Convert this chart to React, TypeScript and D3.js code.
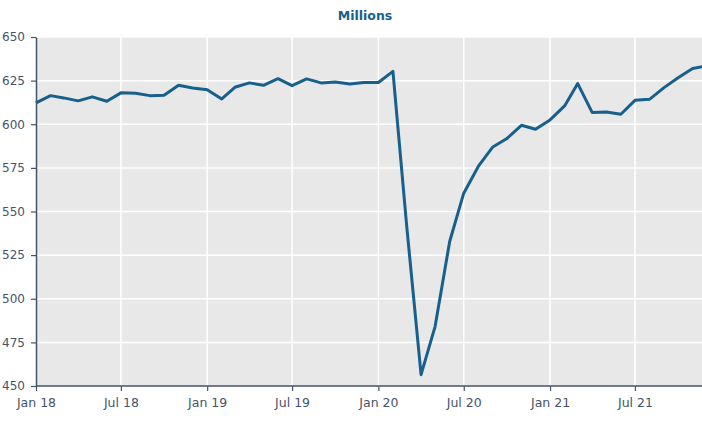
import React, { useEffect, useRef } from "react";
import * as d3 from "d3";

const startMonth = "2018-01";
const values: number[] = [
  612.2, 616.4, 615.1, 613.4, 615.7, 613.2, 618.0, 617.8, 616.4, 616.6, 622.3, 620.8,
  619.8, 614.5, 621.2, 623.7, 622.3, 626.1, 622.1, 626.0, 623.7, 624.2, 623.1, 623.9,
  623.9, 630.3, 542.7, 456.5, 484.2, 532.8, 560.5, 575.8, 587.0, 591.8, 599.4, 597.1,
  602.5, 610.5, 623.3, 606.7, 607.0, 605.7, 613.7, 614.3, 621.0, 626.7, 631.9, 633.5,
];
const yTicks = [450, 475, 500, 525, 550, 575, 600, 625, 650];
const title = "Millions";

const W = 702;
const H = 439;

export default function App() {
  const ref = useRef<SVGSVGElement | null>(null);

  useEffect(() => {
    const svg = d3.select(ref.current);
    svg.selectAll("*").remove();

    const parse = d3.timeParse("%Y-%m");
    const start = parse(startMonth) as Date;
    const dates = values.map((_, i) => d3.timeMonth.offset(start, i));
    const data = dates.map((d, i) => ({ d, v: values[i] }));

    const left = 36;
    const top = 37;
    const bottom = 386;
    const x = d3
      .scaleTime()
      .domain([dates[0], dates[dates.length - 1]])
      .range([left, 706.7]);
    const y = d3.scaleLinear().domain([450, 650]).range([bottom, top]);

    const axisColor = "#44546a";
    const font = "'Century Gothic', 'URW Gothic', 'DejaVu Sans', sans-serif";

    svg
      .append("rect")
      .attr("x", left)
      .attr("y", top)
      .attr("width", 720 - left)
      .attr("height", bottom - top)
      .attr("fill", "#e8e8e8");

    const xTicks = d3.timeMonth.every(6)!.range(dates[0], d3.timeMonth.offset(dates[dates.length - 1], 1));

    // grid
    svg
      .append("g")
      .selectAll("line")
      .data(yTicks.slice(1))
      .join("line")
      .attr("x1", left)
      .attr("x2", 720)
      .attr("y1", (d) => y(d))
      .attr("y2", (d) => y(d))
      .attr("stroke", "#ffffff")
      .attr("stroke-width", 1.5);
    svg
      .append("g")
      .selectAll("line")
      .data(xTicks.slice(1))
      .join("line")
      .attr("x1", (d) => x(d))
      .attr("x2", (d) => x(d))
      .attr("y1", top)
      .attr("y2", bottom)
      .attr("stroke", "#ffffff")
      .attr("stroke-width", 1.5);

    // line
    const line = d3
      .line<{ d: Date; v: number }>()
      .x((p) => x(p.d))
      .y((p) => y(p.v));
    svg
      .append("path")
      .datum(data)
      .attr("d", line)
      .attr("fill", "none")
      .attr("stroke", "#17608c")
      .attr("stroke-width", 3)
      .attr("stroke-linejoin", "round");

    // y axis
    const yAxis = svg
      .append("g")
      .attr("transform", `translate(${left},0)`)
      .call(d3.axisLeft(y).tickValues(yTicks).tickSize(5).tickPadding(6).tickSizeOuter(0));
    yAxis.select(".domain").attr("stroke", axisColor).attr("stroke-width", 1.5);
    yAxis.selectAll(".tick line").attr("stroke", axisColor).attr("stroke-width", 1.2);
    yAxis
      .selectAll(".tick text")
      .attr("fill", axisColor)
      .attr("font-size", 12)
      .attr("font-family", font);

    // x axis
    const xAxis = svg
      .append("g")
      .attr("transform", `translate(0,${bottom})`)
      .call(
        d3
          .axisBottom(x)
          .tickValues(xTicks)
          .tickFormat((d) => d3.timeFormat("%b %y")(d as Date))
          .tickSize(5)
          .tickPadding(7)
          .tickSizeOuter(0)
      );
    xAxis.select(".domain").attr("stroke", axisColor).attr("stroke-width", 1.5).attr("d", `M${left},0H720`);
    xAxis.selectAll(".tick line").attr("stroke", axisColor).attr("stroke-width", 1.2);
    xAxis
      .selectAll(".tick text")
      .attr("fill", axisColor)
      .attr("font-size", 12.5)
      .attr("font-family", font);

    svg
      .append("text")
      .attr("x", 365)
      .attr("y", 20)
      .attr("text-anchor", "middle")
      .attr("font-family", font)
      .attr("font-weight", "bold")
      .attr("font-size", 12.5)
      .attr("fill", "#17608c")
      .text(title);
  }, []);

  return (
    <svg
      ref={ref}
      width={W}
      height={H}
      style={{ position: "absolute", left: 0, top: 0, background: "#ffffff" }}
    />
  );
}
